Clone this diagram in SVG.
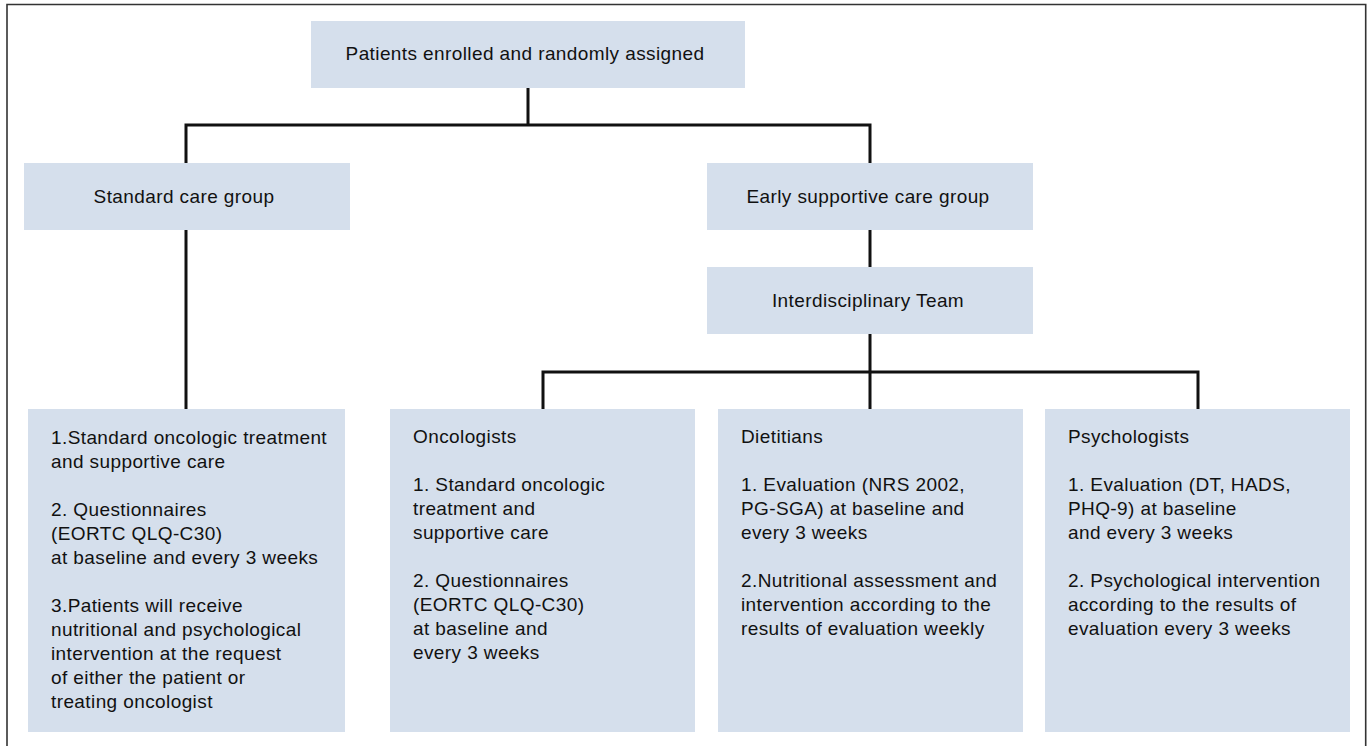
<svg xmlns="http://www.w3.org/2000/svg" width="1372" height="746" viewBox="0 0 1372 746">
<style>
.box{fill:#d5dfec;}
.t{font-family:"Liberation Sans",Arial,sans-serif;font-size:19px;letter-spacing:0.4px;fill:#111;}
.c{text-anchor:middle;}
.con{stroke:#111;stroke-width:3;fill:none;}
</style>
<rect x="0" y="0" width="1372" height="746" fill="#ffffff"/>
<path d="M7,760 V4.5 H1365.7 V760" fill="none" stroke="#333" stroke-width="1.6"/>
<g id="connectors">
<path class="con" d="M528,88 V125 M186,163 V125 H870 V163"/>
<path class="con" d="M186,230 V409"/>
<path class="con" d="M870,230 V267"/>
<path class="con" d="M870,334 V409 M543,409 V372 H1198 V409"/>
</g>
<g id="n-enrolled">
<rect class="box" x="311" y="21" width="434" height="67"/>
<text class="t c" x="525" y="60">Patients enrolled and randomly assigned</text>
</g>
<g id="n-standard">
<rect class="box" x="24" y="163" width="326" height="67"/>
<text class="t c" x="184" y="203">Standard care group</text>
</g>
<g id="n-early">
<rect class="box" x="707" y="163" width="326" height="67"/>
<text class="t c" x="868" y="203">Early supportive care group</text>
</g>
<g id="n-team">
<rect class="box" x="707" y="267" width="326" height="67"/>
<text class="t c" x="868" y="307">Interdisciplinary Team</text>
</g>
<g id="n-standard-detail">
<rect class="box" x="28" y="409" width="317" height="323"/>
<text class="t" x="51" y="444">1.Standard oncologic treatment</text>
<text class="t" x="51" y="468">and supportive care</text>
<text class="t" x="51" y="516">2. Questionnaires</text>
<text class="t" x="51" y="540">(EORTC QLQ-C30)</text>
<text class="t" x="51" y="564">at baseline and every 3 weeks</text>
<text class="t" x="51" y="612">3.Patients will receive</text>
<text class="t" x="51" y="636">nutritional and psychological</text>
<text class="t" x="51" y="660">intervention at the request</text>
<text class="t" x="51" y="684">of either the patient or</text>
<text class="t" x="51" y="708">treating oncologist</text>
</g>
<g id="n-oncologists">
<rect class="box" x="390" y="409" width="305" height="323"/>
<text class="t" x="413" y="443">Oncologists</text>
<text class="t" x="413" y="491">1. Standard oncologic</text>
<text class="t" x="413" y="515">treatment and</text>
<text class="t" x="413" y="539">supportive care</text>
<text class="t" x="413" y="587">2. Questionnaires</text>
<text class="t" x="413" y="611">(EORTC QLQ-C30)</text>
<text class="t" x="413" y="635">at baseline and</text>
<text class="t" x="413" y="659">every 3 weeks</text>
</g>
<g id="n-dietitians">
<rect class="box" x="718" y="409" width="305" height="323"/>
<text class="t" x="741" y="443">Dietitians</text>
<text class="t" x="741" y="491">1. Evaluation (NRS 2002,</text>
<text class="t" x="741" y="515">PG-SGA) at baseline and</text>
<text class="t" x="741" y="539">every 3 weeks</text>
<text class="t" x="741" y="587">2.Nutritional assessment and</text>
<text class="t" x="741" y="611">intervention according to the</text>
<text class="t" x="741" y="635">results of evaluation weekly</text>
</g>
<g id="n-psychologists">
<rect class="box" x="1045" y="409" width="305" height="323"/>
<text class="t" x="1068" y="443">Psychologists</text>
<text class="t" x="1068" y="491">1. Evaluation (DT, HADS,</text>
<text class="t" x="1068" y="515">PHQ-9) at baseline</text>
<text class="t" x="1068" y="539">and every 3 weeks</text>
<text class="t" x="1068" y="587">2. Psychological intervention</text>
<text class="t" x="1068" y="611">according to the results of</text>
<text class="t" x="1068" y="635">evaluation every 3 weeks</text>
</g>
</svg>
